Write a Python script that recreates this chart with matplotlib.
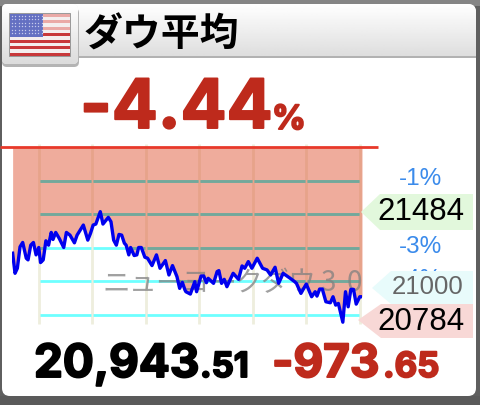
import numpy as np
import matplotlib
matplotlib.use("Agg")
import matplotlib.pyplot as plt
import matplotlib.patheffects as pe
from matplotlib.patches import FancyBboxPatch, Polygon, Rectangle

# minutes after the open, and percent change from the previous close
minutes = [0.7, 3.4, 6, 9, 12, 16, 18, 21, 24, 27, 30, 32, 35, 38, 41, 44, 46, 49, 53, 58,
           61, 65, 70, 73, 80, 85, 88, 91, 94, 99, 102, 108, 111, 114, 117, 120, 123, 126, 128, 131,
           133, 137, 140, 142, 145, 149, 152, 157, 162, 166, 172, 176, 180, 185, 188, 191, 194, 195, 200, 205,
           207, 212, 215, 218, 220, 226, 230, 232, 235, 238, 241, 248, 254, 258, 261, 265, 269, 275, 281, 286,
           290, 295, 299, 304, 312, 317, 319, 324, 330, 336, 340, 342, 345, 348, 352, 357, 360, 363, 366, 371,
           374, 377, 380, 383, 386, 390, 392.5]
change = [-3.17, -3.77, -3.62, -2.98, -2.85, -3.32, -3.37, -2.93, -2.85, -3.22, -3.0, -3.45, -3.37, -2.80, -2.93, -2.55, -2.76, -2.55, -2.73, -3.0,
          -2.55, -2.63, -2.86, -2.63, -2.33, -2.78, -2.58, -2.33, -2.30, -1.93, -2.30, -2.10, -2.23, -2.78, -2.93, -2.61, -2.63, -2.87, -2.93, -3.22,
          -3.0, -3.24, -3.22, -3.0, -3.0, -3.29, -3.32, -3.54, -3.22, -3.62, -3.39, -3.82, -3.54, -3.87, -4.22, -4.04, -4.27, -4.32, -4.39, -4.02,
          -4.32, -3.85, -3.85, -4.05, -3.92, -4.07, -3.72, -3.69, -4.07, -3.95, -4.17, -3.77, -3.95, -3.55, -3.62, -3.42, -3.62, -3.32, -3.62, -3.67,
          -3.82, -3.59, -4.07, -3.77, -3.92, -4.02, -4.07, -4.37, -4.09, -4.47, -4.32, -4.45, -4.24, -4.24, -4.62, -4.65, -4.47, -4.72, -4.67, -5.23,
          -4.32, -4.77, -4.25, -4.25, -4.69, -4.47, -4.47]
hour_lines = [30, 90, 150, 210, 270, 330, 390]
pct_lines = [-1, -2, -3, -4, -5]
watermark = ["ニ", "ュ", "ー", "ヨ", "ー", "ク", "ダ", "ウ", "3", "0"]

jp = ["Noto Sans CJK JP", "DejaVu Sans"]
round_font = "Inter"
RED = "#BE2A1C"
BLUE = "#3B8BEB"

fig = plt.figure(figsize=(4.8, 4.05), dpi=100, facecolor="#5f5f5f")


def full_axes(z):
    a = fig.add_axes([0, 0, 1, 1], zorder=z)
    a.set_xlim(0, 480)
    a.set_ylim(405, 0)
    a.axis("off")
    return a


# card, header and flag tab
bg = full_axes(0)
bg.add_patch(Rectangle((0, 0), 480, 6, color="#858585", lw=0))
bg.add_patch(Rectangle((0, 396), 480, 9, color="#5a5a5a", lw=0))
card = FancyBboxPatch((6, 8), 466, 384, boxstyle="round,pad=4,rounding_size=8", fc="white", ec="none")
bg.add_patch(card)
grad = np.linspace(1, 0.87, 64).reshape(-1, 1)
im = bg.imshow(grad, extent=(2, 476, 56, 4), cmap="gray", vmin=0, vmax=1, aspect="auto", zorder=1)
im.set_clip_path(card)
bg.add_patch(Rectangle((2, 56), 474, 2.2, color="#b2b2b2", lw=0, zorder=2))
bg.add_patch(FancyBboxPatch((2, 8), 77, 59, boxstyle="round,pad=0,rounding_size=5", fc="#b4b4b4", ec="none", zorder=2))
tab = FancyBboxPatch((2, 4), 76, 60, boxstyle="round,pad=0,rounding_size=5", fc="#f2f2f2", ec="none", zorder=3)
bg.add_patch(tab)
im2 = bg.imshow(np.linspace(1, 0.86, 64).reshape(-1, 1), extent=(2, 78, 64, 4), cmap="gray", vmin=0, vmax=1,
                aspect="auto", zorder=3.1)
im2.set_clip_path(tab)
bg.set_xlim(0, 480)
bg.set_ylim(405, 0)

# flag
bg.add_patch(Rectangle((9, 13), 61, 43, fc="#f4eeee", ec="#8a8a8a", lw=0.6, zorder=4))
for i in range(7):
    y = 13.5 + i * 6.5
    col = "#eaa9a6" if i < 3 else "#c8383a"
    bg.add_patch(Rectangle((9.5, y), 60, 3.3, color=col, lw=0, zorder=4.1))
bg.add_patch(Rectangle((9.5, 13.5), 33, 23.5, color="#6470c2", lw=0, zorder=4.2))
sx, sy = np.meshgrid(np.arange(12, 42, 3.3), np.arange(16, 36, 3.4))
bg.scatter(sx.ravel(), sy.ravel(), s=1.0, c="#c6cbec", lw=0, zorder=4.3)

bg.text(84, 35, "ダウ平均", family=jp, fontsize=28, fontweight="bold", color="black", va="center", ha="left", zorder=5)

# chart
ax = fig.add_axes([12 / 480, 1 - 324 / 405, 350 / 480, 177 / 405], zorder=1)
ax.set_xlim(0, 392.5)
ax.set_ylim(-177 / 33.5, 0)
ax.axis("off")
ax.patch.set_alpha(0)

ax.vlines(hour_lines, -177 / 33.5, 0.1, color="#eeeedd", lw=2.0, zorder=1, clip_on=False)
left = 31
segments = [(left, hour_lines[1] - 0.9)] + [(a + 0.9, b - 0.9) for a, b in zip(hour_lines[1:], hour_lines[2:])]
for s0, s1 in segments:
    ax.hlines(pct_lines, s0, s1, color="#6effff", lw=2.0, zorder=2)

area = ax.fill_between(minutes, 0, change, color=(224 / 255, 86 / 255, 53 / 255), alpha=0.49, lw=0, zorder=3)
clip = area.get_paths()[0]
for s0, s1 in segments:
    teal = ax.hlines(pct_lines, s0, s1, color="#72a89b", lw=2.0, zorder=4)
    teal.set_clip_path(clip, ax.transData)

for i, ch in enumerate(watermark):
    ax.text(117 + i * 29.6, -4.06, ch, family=jp, fontsize=20, color="#808080", alpha=0.75, ha="center", va="center",
            zorder=5, clip_on=False)
ax.plot(minutes, change, color="#0000ee", lw=2.4, solid_joinstyle="round", zorder=6)

# labels and tags
top = full_axes(2)
top.plot([0, 378], [147, 147], color="#e8392a", lw=2.0, solid_capstyle="butt")
top.text(420, 179, "-1%", family="Liberation Sans", fontsize=17.5, color=BLUE, ha="center", va="center")
top.text(420, 247, "-3%", family="Liberation Sans", fontsize=17.5, color=BLUE, ha="center", va="center")
top.text(420, 280, "-4%", family="Liberation Sans", fontsize=17.5, color=BLUE, ha="center", va="center", zorder=0.5)
top.text(420, 313, "-5%", family="Liberation Sans", fontsize=17.5, color=BLUE, ha="center", va="center", zorder=0.5)
top.add_patch(Polygon([(361, 212), (380, 194), (473, 194), (473, 230), (380, 230)], fc="#e2f8dc", ec="none"))
top.add_patch(Polygon([(372, 288), (391, 271), (473, 271), (473, 304), (391, 304)], fc="#e8fbfb", ec="none"))
top.add_patch(Polygon([(358, 320), (381, 304), (473, 304), (473, 338), (381, 338)], fc="#f8d8d6", ec="none"))
top.text(421, 212, "21484", family="Liberation Sans", fontsize=22.5, color="black", ha="center", va="center")
top.text(428, 287, "21000", family="Liberation Sans", fontsize=18.5, color="#666666", ha="center", va="center")
top.text(421, 322, "20784", family="Liberation Sans", fontsize=22.5, color="black", ha="center", va="center")


def big(x, y, s, size, col):
    return top.text(x, y, s, family=round_font, fontweight="bold", fontsize=size, color=col, ha="left",
                    va="baseline", path_effects=[pe.withStroke(linewidth=1.4, foreground=col)])


big(80, 128, "-4.44", 49, RED)
big(272, 129, "%", 24, RED)
big(34, 377, "20,943", 33, "black")
big(200, 377, ".51", 25, "black")
big(272, 377, "-973", 33, RED)
big(383, 377, ".65", 25, RED)

fig.savefig("out.png", dpi=100, facecolor=fig.get_facecolor())
